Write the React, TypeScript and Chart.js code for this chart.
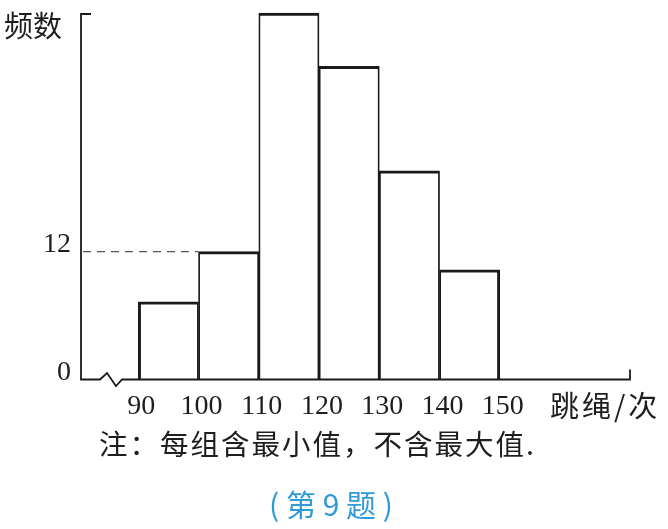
import React, { useEffect, useRef } from 'react';
import { Chart, registerables } from 'chart.js';

Chart.register(...registerables);

// ---- data ----
const binEdges = [90, 100, 110, 120, 130, 140, 150];
const frequencies = [7.3, 12, 34.4, 29.4, 19.6, 10.3];
const xTickLabels = ['90', '100', '110', '120', '130', '140', '150'];
const yTickValues = [0, 12];
const yTickLabels = ['0', '12'];
const markedValue = 12;
const yAxisTitle = '频数';
const xAxisTitle = '跳绳/次';
const noteText = '注：每组含最小值，不含最大值.';
const captionText = '( 第 9 题 )';

const X_MIN = 80.5;
const X_MAX = 171.6;
const Y_MAX = 34.5;

const INK = '#1a1a1a';
const CJK = '"Noto Sans CJK SC", "Noto Sans", sans-serif';
const SERIF = '"Liberation Serif", "DejaVu Serif", serif';

const decorPlugin = {
  id: 'decor',
  afterDraw(chart: any) {
    const { ctx, chartArea } = chart;
    const xs = chart.scales.x;
    const ys = chart.scales.y;
    const left = chartArea.left;
    const right = chartArea.right;
    const base = ys.getPixelForValue(0);
    const top = chartArea.top + 2;
    ctx.save();
    // dashed reference line
    const yMark = ys.getPixelForValue(markedValue);
    ctx.strokeStyle = '#555';
    ctx.lineWidth = 1.3;
    ctx.setLineDash([8, 6]);
    ctx.beginPath();
    ctx.moveTo(left + 2, yMark);
    ctx.lineTo(xs.getPixelForValue(binEdges[1]), yMark);
    ctx.stroke();
    ctx.setLineDash([]);

    // y axis
    ctx.strokeStyle = INK;
    ctx.lineWidth = 1.8;
    ctx.beginPath();
    ctx.moveTo(left + 10, top);
    ctx.lineTo(left, top);
    ctx.lineTo(left, base);
    // x axis with break
    ctx.lineTo(left + 19, base);
    ctx.lineTo(left + 26, base - 6.5);
    ctx.lineTo(left + 35, base + 6.5);
    ctx.lineTo(left + 41, base);
    ctx.lineTo(right, base);
    ctx.lineTo(right, base - 10);
    ctx.stroke();

    // texts
    ctx.fillStyle = '#1e1e1e';
    ctx.textBaseline = 'middle';
    ctx.textAlign = 'left';
    ctx.font = `29px ${CJK}`;
    ctx.fillText(yAxisTitle, 4, 26);
    ctx.font = `29px ${CJK}`;
    (ctx as any).letterSpacing = '3px';
    ctx.fillText(xAxisTitle, 550, 406);
    ctx.font = `28.5px ${CJK}`;
    (ctx as any).letterSpacing = '2px';
    ctx.fillText(noteText, 99, 444);
    (ctx as any).letterSpacing = '0px';
    ctx.fillStyle = '#2f9bd8';
    ctx.textAlign = 'center';
    ctx.font = `30px ${CJK}`;
    ctx.fillText(captionText, 331, 505);
    ctx.restore();
  },
};

export default function App() {
  const ref = useRef<HTMLCanvasElement | null>(null);

  useEffect(() => {
    if (!ref.current) return;
    const points = frequencies.map((f, i) => ({
      x: (binEdges[i] + binEdges[i + 1]) / 2,
      y: f,
    }));
    const last = frequencies.length - 1;
    const chart = new Chart(ref.current, {
      type: 'bar',
      data: {
        datasets: [
          {
            data: points as any,
            backgroundColor: '#ffffff',
            borderColor: INK,
            borderWidth: ((c: any) => ({
              top: 3,
              bottom: 0,
              left: c.dataIndex === 0 ? 3 : 1.8,
              right: c.dataIndex === last ? 3 : 1.8,
            })) as any,
            borderSkipped: false,
            barPercentage: 1,
            categoryPercentage: 1,
          },
        ],
      },
      plugins: [decorPlugin],
      options: {
        animation: false,
        responsive: false,
        maintainAspectRatio: false,
        layout: { padding: { top: 12, left: 0, right: 38, bottom: 0 } },
        plugins: {
          legend: { display: false },
          tooltip: { enabled: false },
          title: { display: false },
        },
        scales: {
          x: {
            type: 'linear',
            min: X_MIN,
            max: X_MAX,
            offset: false,
            grid: { display: false, drawTicks: false },
            border: { display: false },
            afterBuildTicks: (s: any) => {
              s.ticks = binEdges.map((v) => ({ value: v }));
            },
            afterFit: (s: any) => {
              s.height = 149.5;
              s.paddingLeft = 0;
              s.paddingRight = 0;
            },
            ticks: {
              autoSkip: false,
              maxRotation: 0,
              padding: 10,
              labelOffset: 3,
              color: '#1e1e1e',
              font: { family: SERIF, size: 28 },
              callback: (v: any) => {
                const i = binEdges.indexOf(Number(v));
                return i >= 0 ? xTickLabels[i] : '';
              },
            },
          },
          y: {
            type: 'linear',
            min: 0,
            max: Y_MAX,
            grid: { display: false, drawTicks: false },
            border: { display: false },
            afterBuildTicks: (s: any) => {
              s.ticks = yTickValues.map((v) => ({ value: v }));
            },
            afterFit: (s: any) => {
              s.width = 81;
              s.paddingTop = 0;
              s.paddingBottom = 0;
            },
            ticks: {
              autoSkip: false,
              padding: 10,
              labelOffset: -7,
              color: '#1e1e1e',
              font: { family: SERIF, size: 28 },
              callback: (v: any) => {
                const i = yTickValues.indexOf(Number(v));
                return i >= 0 ? yTickLabels[i] : '';
              },
            },
          },
        },
      },
    });
    return () => chart.destroy();
  }, []);

  return (
    <div style={{ position: 'absolute', left: 0, top: 0, width: 668, height: 529, background: '#fff' }}>
      <canvas ref={ref} width={668} height={529} style={{ width: 668, height: 529, display: 'block' }} />
    </div>
  );
}
